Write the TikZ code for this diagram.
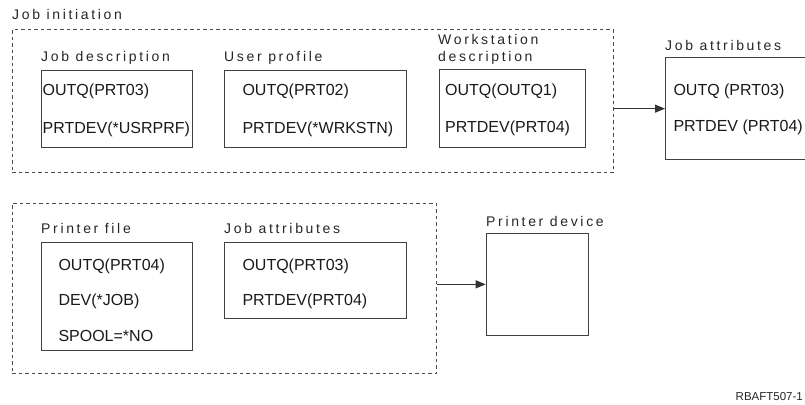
\documentclass[tikz,border=0pt]{standalone}
\usepackage{fontspec}
\setmainfont{Liberation Sans}
\newfontfamily\lblfont[LetterSpace=19]{Liberation Sans}
\usetikzlibrary{arrows.meta}
\tikzset{
  x=1pt, y=-1pt,
  box/.style={draw=black!75, line width=1pt, inner sep=0pt, anchor=north west},
  grp/.style={draw=black!70, line width=0.9pt, dash pattern=on 3.5pt off 3pt, inner sep=0pt, anchor=north west},
  val/.style={inner sep=0pt, anchor=base west, font=\fontsize{16}{18}\selectfont, text=black!90},
  lbl/.style={inner sep=0pt, anchor=base west, font=\lblfont\fontsize{14}{16}\selectfont, text=black!85},
  arr/.style={draw=black!80, line width=1pt, -{Triangle[length=10pt,width=8pt]}},
}
\begin{document}
\begin{tikzpicture}
\useasboundingbox (0,0) rectangle (805,404);
\clip (0,0) rectangle (805,404);

% ---------- top group ----------
\node[grp, minimum width=601pt, minimum height=143pt] (ji) at (11.7,29.3) {};
\node[lbl] (jilbl) at (12,20) {Job initiation};

\node[box, minimum width=150.7pt, minimum height=76.7pt] (jd) at (41,70) {};
\node[lbl] (jdlbl) at (41,61) {Job description};
\node[val] (jd1) at (42.5,95.7) {OUTQ(PRT03)};
\node[val] (jd2) at (42.5,133.3) {PRTDEV(*USRPRF)};

\node[box, minimum width=181.7pt, minimum height=76.7pt] (up) at (224,70) {};
\node[lbl] (uplbl) at (224,61) {User profile};
\node[val] (up1) at (242.3,95.7) {OUTQ(PRT02)};
\node[val] (up2) at (242.3,133.3) {PRTDEV(*WRKSTN)};

\node[box, minimum width=145.7pt, minimum height=77.4pt] (ws) at (439.3,69.3) {};
\node[lbl] (wslbl1) at (438,44.3) {Workstation};
\node[lbl] (wslbl2) at (438,62) {description};
\node[val] (ws1) at (445,95.7) {OUTQ(OUTQ1)};
\node[val] (ws2) at (445,132.7) {PRTDEV(PRT04)};

\node[box, minimum width=150pt, minimum height=101.7pt] (ja) at (665,57.3) {};
\node[lbl] (jalbl) at (665,51) {Job attributes};
\node[val] (ja1) at (673.3,95.3) {OUTQ (PRT03)};
\node[val] (ja2) at (673.3,131.7) {PRTDEV (PRT04)};

\draw[arr] (ja.west -| ji.east) -- (ja.west);

% ---------- bottom group ----------
\node[grp, minimum width=424pt, minimum height=170.6pt] (pg) at (11.7,202.7) {};

\node[box, minimum width=150.7pt, minimum height=108.3pt] (pf) at (41,241.7) {};
\node[lbl] (pflbl) at (41,233.3) {Printer file};
\node[val] (pf1) at (58.3,270.7) {OUTQ(PRT04)};
\node[val] (pf2) at (58.3,305.7) {DEV(*JOB)};
\node[val] (pf3) at (58.3,341.7) {SPOOL=*NO};

\node[box, minimum width=181.7pt, minimum height=76.6pt] (jb) at (224,241.7) {};
\node[lbl] (jblbl) at (224,233.3) {Job attributes};
\node[val] (jb1) at (242.3,270.7) {OUTQ(PRT03)};
\node[val] (jb2) at (242.3,305.7) {PRTDEV(PRT04)};

\node[box, minimum width=102.6pt, minimum height=102.3pt] (pd) at (485.7,232.7) {};
\node[lbl] (pdlbl) at (486,226.7) {Printer device};

\draw[arr] (pd.west -| pg.east) -- (pd.west);

% ---------- figure id ----------
\node[inner sep=0pt, anchor=base east, font=\fontsize{11.5}{13}\selectfont, text=black!85] (fid) at (803,400) {RBAFT507-1};
\end{tikzpicture}
\end{document}
